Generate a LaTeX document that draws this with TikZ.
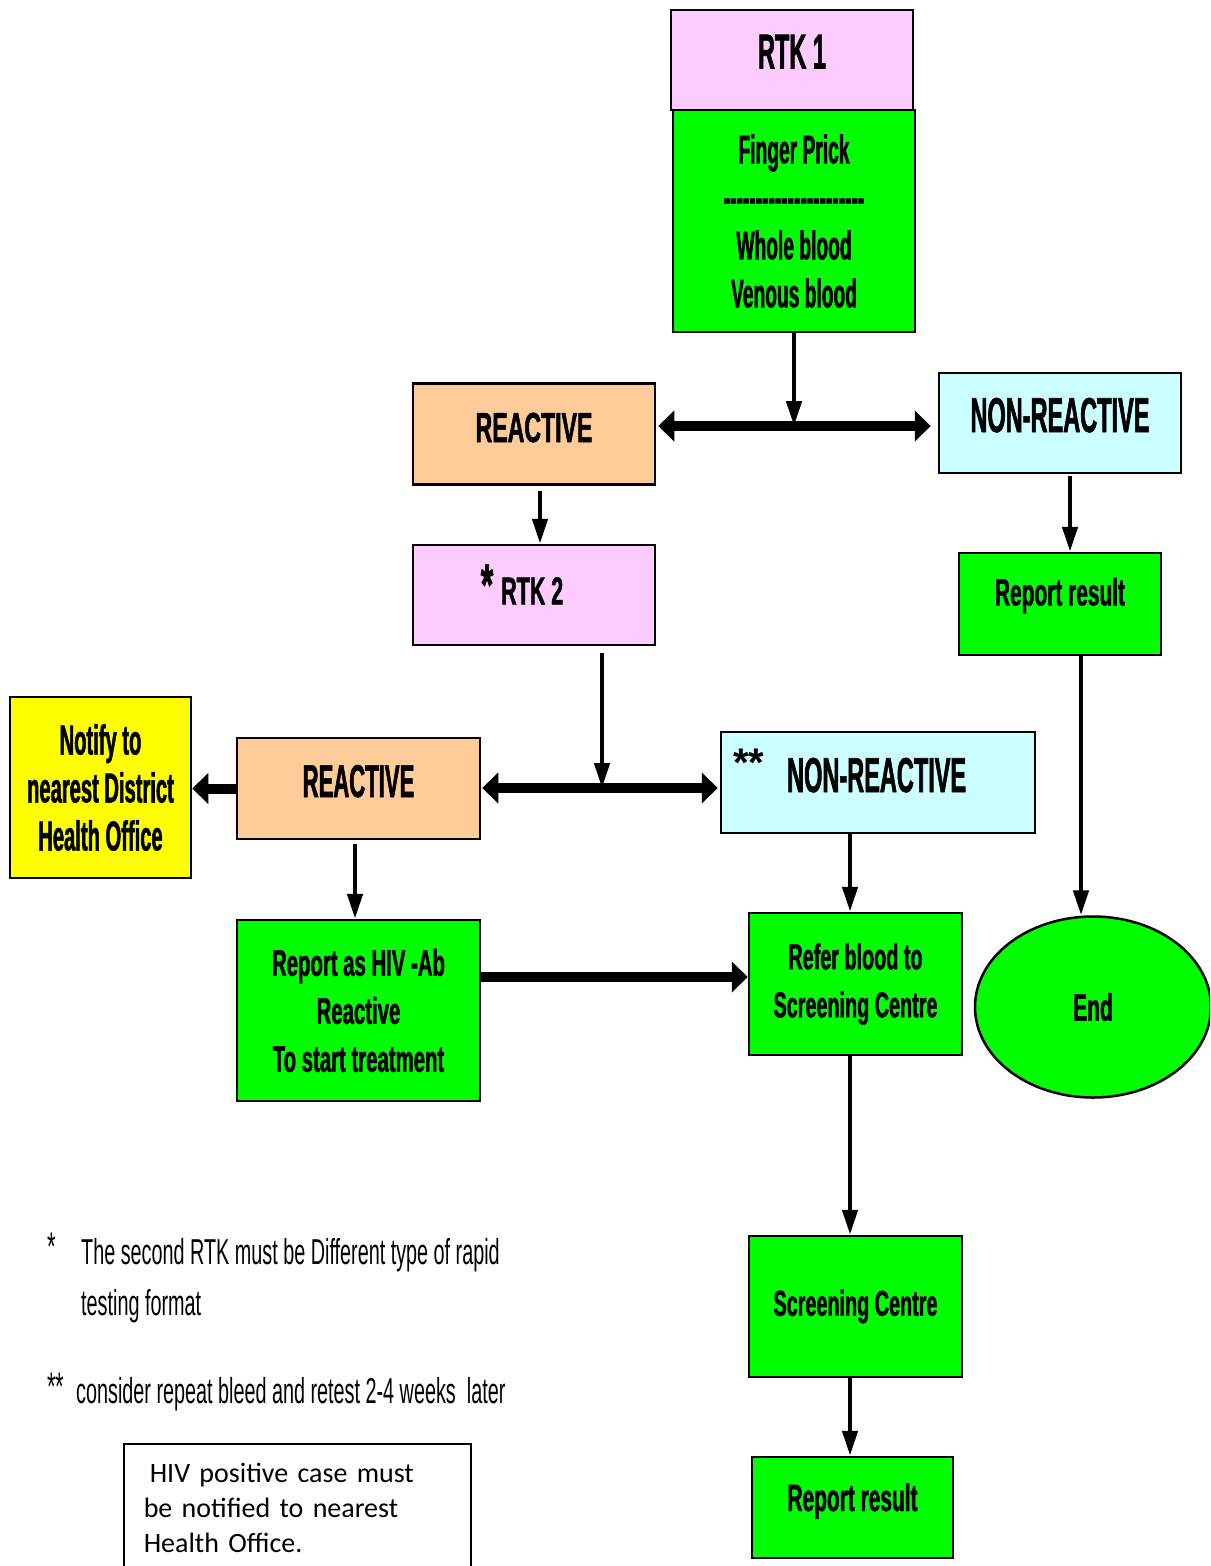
\documentclass[tikz,border=0pt]{standalone}
\usepackage{fontspec}
\setmainfont{Liberation Sans}
\newfontfamily\narrowA{Liberation Sans Bold}[FakeStretch=0.48, FakeBold=1.2]
\newfontfamily\narrowB{Liberation Sans Bold}[FakeStretch=0.55, FakeBold=1.2]
\newfontfamily\narrowN{Liberation Sans}[FakeStretch=0.55]
\newfontfamily\calibri{Carlito}
\usetikzlibrary{arrows.meta,shapes}
\definecolor{node_pink}{RGB}{255,204,255}
\definecolor{node_green}{RGB}{0,255,0}
\definecolor{node_orange}{RGB}{255,204,153}
\definecolor{node_cyan}{RGB}{204,255,255}
\definecolor{node_yellow}{RGB}{255,255,0}
\newcommand{\txtA}[1]{\narrowA\fontsize{#1}{48}\selectfont}
\newcommand{\txtB}[1]{\narrowB\fontsize{#1}{48}\selectfont}
\newcommand{\noteB}[1]{\narrowN\fontsize{#1}{51}\selectfont}

\begin{document}
\begin{tikzpicture}[x=1pt,y=-1pt,>={Triangle[length=25pt,width=15pt]}]
    \tikzstyle{box}=[draw=black, line width=2.5pt, rectangle, inner sep=0pt, align=center, text=black]
    \tikzstyle{pinkbox}=[style=box, fill=node_pink, minimum width=242pt, minimum height=100pt]
    \tikzstyle{orangebox}=[style=box, fill=node_orange, minimum width=242pt, minimum height=101pt]
    \tikzstyle{cyanbox}=[style=box, fill=node_cyan, minimum width=242pt, minimum height=100pt]
    \tikzstyle{greenbox}=[style=box, fill=node_green]
    \tikzstyle{yellowbox}=[style=box, fill=node_yellow]
    \tikzstyle{endnode}=[style=box, ellipse, fill=node_green, minimum width=236pt, minimum height=181pt]
    \tikzstyle{notebox}=[draw=black, line width=1.5pt, inner xsep=20pt, inner ysep=19pt, align=left]
    \tikzstyle{link}=[->, line width=4.5pt]
    \tikzstyle{fatlink}=[line width=10pt, >={Triangle[length=16pt,width=30pt]}]

    \useasboundingbox (0,0) rectangle (1210,1566);
    \clip (0,0) rectangle (1210,1566);

    % first test
    \node[pinkbox, font=\txtA{49}, text height=35pt, text depth=18pt] (rtk1) at (792,60) {RTK 1};
    \node[greenbox, minimum width=242pt, minimum height=222pt, font=\txtA{40}] (blood) at (794,221)
      {Finger Prick\\-{}-{}-{}-{}-{}-{}-{}-{}-{}-{}-{}-{}-{}-{}-{}-{}-{}-{}-{}-{}-{}-{}\\Whole blood\\Venous blood};
    \node[orangebox, font=\txtB{42}, text height=30pt, text depth=14pt] (react1) at (534,434) {REACTIVE};
    \node[cyanbox, font=\txtA{49}, text height=35pt, text depth=17pt] (nonreact1) at (1060,423) {NON-REACTIVE};
    \node[pinkbox, font=\txtB{39}, text height=28pt, text depth=9pt] (rtk2) at (534,595)
      {{\fontsize{58}{58}\selectfont *}\hspace{8pt}RTK 2\hspace{24pt}\mbox{}};
    \node[greenbox, minimum width=202pt, minimum height=102pt, font=\txtB{38}, text height=27pt, text depth=24pt] (report1) at (1060,604) {Report result};
    \node[endnode, font=\txtB{38}] (end) at (1093,1007) {End};

    % second test
    \node[orangebox, minimum width=243pt, font=\txtA{46}, text height=33pt, text depth=16pt] (react2) at (358.5,788.5) {REACTIVE};
    \node[cyanbox, minimum width=314pt, minimum height=101pt, font=\txtA{49}, text height=35pt, text depth=16pt,
      align=left, text width=290pt, inner xsep=12pt] (nonreact2) at (878,782.5)
      {\raisebox{16pt}{\rmfamily\bfseries\fontsize{40}{40}\selectfont **}\hspace{23pt}NON-REACTIVE};
    \node[yellowbox, minimum width=181pt, minimum height=181pt, font=\txtA{42}] (notify) at (100.5,787.5)
      {Notify to\\nearest District\\Health Office};
    \node[greenbox, minimum width=243pt, minimum height=181pt, font=\txtB{37}] (reporthiv) at (358.5,1010.5)
      {Report as HIV -Ab\\Reactive\\To start treatment};
    \node[greenbox, minimum width=213pt, minimum height=142pt, font=\txtB{36}] (refer) at (855.5,984)
      {Refer blood to\\Screening Centre};
    \node[greenbox, minimum width=213pt, minimum height=141pt, font=\txtB{36}] (screen) at (855.5,1306.5) {Screening Centre};
    \node[greenbox, minimum width=201pt, minimum height=101pt, font=\txtB{38}, text height=27pt, text depth=20pt] (report2) at (852.5,1507.5) {Report result};

    % footnotes
    \node[anchor=base west, inner sep=0pt, font=\noteB{40}] (star1) at (47,1260) {*};
    \node[anchor=north west, inner sep=0pt, align=left, font=\noteB{36}] (note1) at (81,1238)
      {The second RTK must be Different type of rapid\\testing format};
    \node[anchor=base west, inner sep=0pt, font=\noteB{40}] (star2) at (47,1400) {**};
    \node[anchor=base west, inner sep=0pt, font=\noteB{36}] (note2) at (76,1403)
      {consider repeat bleed and retest 2-4 weeks\ \ later};
    \node[notebox, anchor=north west, text width=307pt, font=\calibri\fontsize{28}{35}\selectfont] (hivnote) at (123,1443)
      {\hspace{6pt}HIV positive case must\\be notified to nearest\\Health Office.\\[30pt]\mbox{}};

    \coordinate (j1) at (794,426);
    \coordinate (j2) at (602,788);
    \coordinate (j3) at (615,977);
    \coordinate (v1) at (540,0);
    \coordinate (v2) at (1070,0);
    \coordinate (v3) at (1081,0);
    \coordinate (v4) at (355,0);
    \coordinate (v5) at (850,0);

    \draw[link] (blood.south) -- (j1);
    \draw[fatlink,<->, shorten <=2pt, shorten >=7pt] (react1.east |- j1) -- (nonreact1.west |- j1);
    \draw[link, shorten <=5pt] (react1.south -| v1) -- (rtk2.north -| v1);
    \draw[link, shorten <=2pt] (nonreact1.south -| v2) -- (report1.north -| v2);
    \draw[link] (report1.south -| v3) -- (end.north -| v3);
    \draw[link, shorten <=7pt] (rtk2.south -| j2) -- (j2);
    \draw[fatlink,<->, shorten <=1pt, shorten >=2pt] (react2.east |- j2) -- (nonreact2.west |- j2);
    \draw[fatlink,->] (react2.west) -- (react2.west -| notify.east);
    \draw[link, shorten <=4pt] (react2.south -| v4) -- (reporthiv.north -| v4);
    \draw[fatlink,->] (reporthiv.east |- j3) -- (refer.west |- j3);
    \draw[link] (nonreact2.south -| v5) -- (refer.north -| v5);
    \draw[link] (refer.south -| v5) -- (screen.north -| v5);
    \draw[link] (screen.south -| v5) -- (report2.north -| v5);
\end{tikzpicture}
\end{document}
